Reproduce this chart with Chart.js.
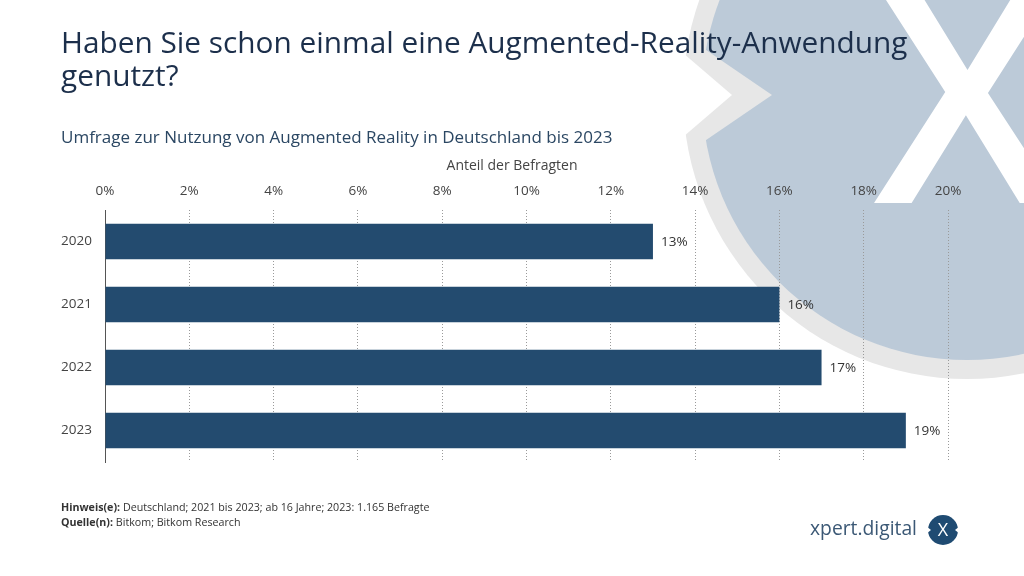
<!DOCTYPE html>
<html>
<head>
<meta charset="utf-8">
<script src="https://cdn.jsdelivr.net/npm/chart.js@4"></script>
<style>
  body { margin: 0; background: #fff; }
  #wrap { position: relative; width: 1024px; height: 576px; overflow: hidden; font-family: "Open Sans", sans-serif; }
  #chart { position: absolute; left: 0; top: 0; }
  .txt { position: absolute; white-space: nowrap; }
  #title { left: 61px; top: 25px; font-size: 29.8px; line-height: 33px; color: #1c2f4b; }
  #subtitle { left: 61px; top: 125px; font-size: 17px; line-height: 24px; color: #2b4763; }
  #axis-title { left: 0; width: 1024px; text-align: center; top: 155px; font-size: 14px; line-height: 20px; color: #444; }
  #notes { left: 61px; top: 500px; font-size: 10.7px; line-height: 15px; color: #333; }
  #brand { left: 810px; top: 516px; font-size: 19.3px; line-height: 24px; color: #3b5875; }
</style>
</head>
<body>
<div id="wrap">
  <canvas id="chart" width="1024" height="576"></canvas>
  <div class="txt" id="title">Haben Sie schon einmal eine Augmented-Reality-Anwendung<br>genutzt?</div>
  <div class="txt" id="subtitle">Umfrage zur Nutzung von Augmented Reality in Deutschland bis 2023</div>
  <div class="txt" id="axis-title">Anteil der Befragten</div>
  <div class="txt" id="notes"><b>Hinweis(e):</b> Deutschland; 2021 bis 2023; ab 16 Jahre; 2023: 1.165 Befragte<br><b>Quelle(n):</b> Bitkom; Bitkom Research</div>
  <div class="txt" id="brand">xpert.digital</div>
</div>
<script>
const categories = ['2020', '2021', '2022', '2023'];
const shareValues = [13, 16, 17, 19];
const axisMax = 20;
const axisStep = 2;

// watermark circle + logo, drawn behind the chart
const backgroundPlugin = {
    id: 'background',
    beforeDraw(chart) {
        const ctx = chart.ctx;
        const cx = 967, cy = 95;
        ctx.save();
        ctx.fillStyle = '#fff';
        ctx.fillRect(0, 0, chart.width, chart.height);

        ctx.beginPath();
        ctx.arc(cx, cy, 284, 0, Math.PI * 2);
        ctx.fillStyle = '#e7e7e7';
        ctx.fill();

        ctx.save();
        ctx.clip();
        ctx.beginPath();
        ctx.arc(cx, cy, 265, 0, Math.PI * 2);
        ctx.fillStyle = '#bccad8';
        ctx.fill();
        ctx.beginPath();
        ctx.moveTo(690, 39);
        ctx.lineTo(772, 95);
        ctx.lineTo(690, 151);
        ctx.closePath();
        ctx.fillStyle = '#e7e7e7';
        ctx.fill();
        ctx.restore();

        ctx.beginPath();
        ctx.moveTo(655, 29);
        ctx.lineTo(732, 95);
        ctx.lineTo(655, 161);
        ctx.closePath();
        ctx.fillStyle = '#fff';
        ctx.fill();

        ctx.font = '600 300px "Open Sans"';
        ctx.fillStyle = '#fff';
        ctx.textAlign = 'center';
        ctx.textBaseline = 'alphabetic';
        ctx.fillText('X', cx, 203);

        // small logo
        ctx.beginPath();
        ctx.arc(943, 530, 15, 0, Math.PI * 2);
        ctx.fillStyle = '#1f4b72';
        ctx.fill();
        ctx.fillStyle = '#fff';
        ctx.beginPath();
        ctx.moveTo(926, 526); ctx.lineTo(931, 530); ctx.lineTo(926, 534); ctx.closePath();
        ctx.fill();
        ctx.beginPath();
        ctx.moveTo(960, 526); ctx.lineTo(955, 530); ctx.lineTo(960, 534); ctx.closePath();
        ctx.fill();
        ctx.font = '18px "Open Sans"';
        ctx.textBaseline = 'middle';
        ctx.fillText('X', 943, 531);
        ctx.restore();
    }
};

const valueLabels = {
    id: 'valueLabels',
    afterDatasetsDraw(chart) {
        const ctx = chart.ctx;
        const meta = chart.getDatasetMeta(0);
        ctx.save();
        ctx.font = '13.5px "Open Sans"';
        ctx.fillStyle = '#333';
        ctx.textAlign = 'left';
        ctx.textBaseline = 'middle';
        meta.data.forEach((bar, i) => {
            ctx.fillText(shareValues[i] + '%', bar.x + 8, bar.y + 1);
        });
        ctx.restore();
    }
};

const config_bar = {
    type: 'bar',
    data: {
        labels: categories,
        datasets: [{
            data: shareValues,
            backgroundColor: '#234b6f',
            barPercentage: 0.56,
            categoryPercentage: 1,
        }]
    },
    options: {
        indexAxis: 'y',
        responsive: false,
        animation: false,
        devicePixelRatio: 1,
        layout: {
            padding: { top: 150, bottom: 114, left: 0, right: 76 }
        },
        plugins: {
            legend: { display: false },
            tooltip: { enabled: false },
            title: { display: false }
        },
        scales: {
            x: {
                position: 'top',
                min: 0,
                max: axisMax,
                ticks: {
                    stepSize: axisStep,
                    callback: (v) => v + '%',
                    color: '#444',
                    font: { family: 'Open Sans', size: 13.5 },
                    padding: 11
                },
                grid: {
                    drawTicks: false,
                    color: (c) => c.index === 0 ? 'rgba(0,0,0,0)' : '#9a9a9a',
                    lineWidth: 1
                },
                border: { display: false, dash: [1, 2] },
                afterFit(scale) { scale.height = 60; }
            },
            y: {
                ticks: {
                    color: '#444',
                    font: { family: 'Open Sans', size: 13.5 },
                    padding: 13
                },
                grid: { drawOnChartArea: false, drawTicks: false },
                border: { display: true, color: '#555', width: 1 },
                afterFit(scale) { scale.width = 105; }
            }
        }
    },
    plugins: [backgroundPlugin, valueLabels]
};

var chart_bar = new Chart(
    document.getElementById('chart'),
    config_bar
);
</script>
</body>
</html>
